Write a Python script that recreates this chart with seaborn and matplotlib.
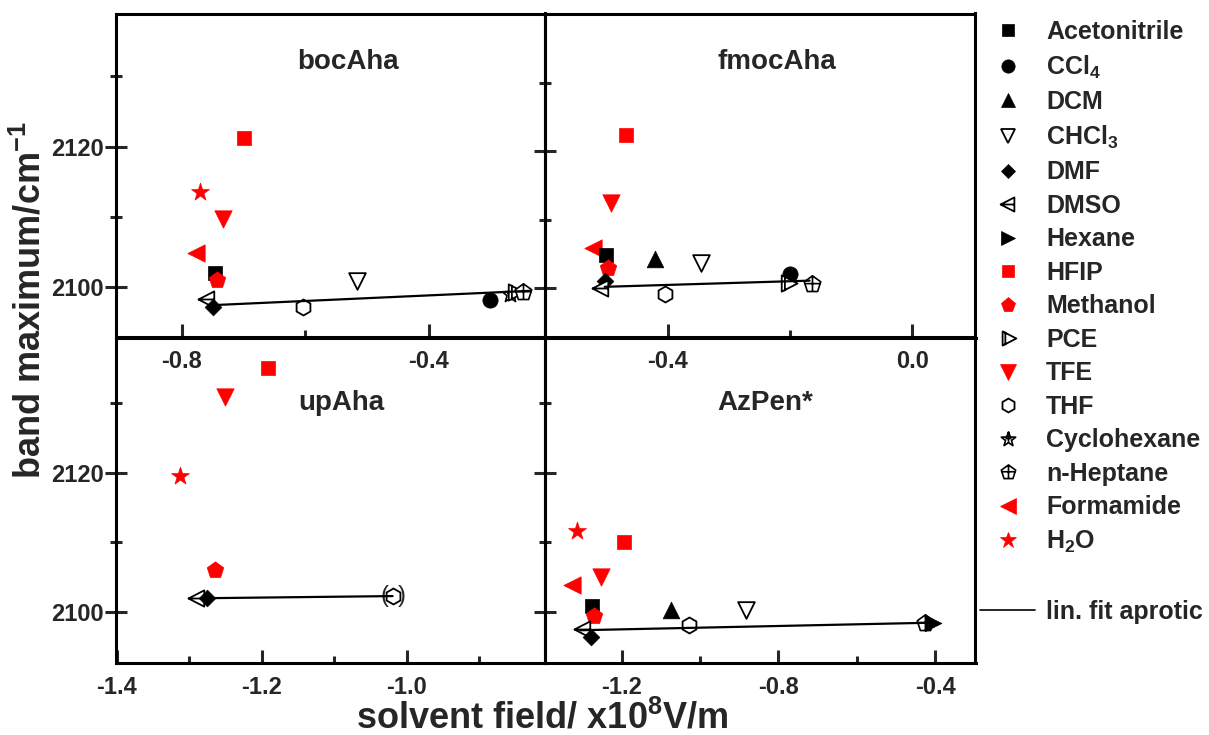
import numpy as np
import matplotlib
matplotlib.use("Agg")
import matplotlib.pyplot as plt
from matplotlib.path import Path
from matplotlib.lines import Line2D
from matplotlib.ticker import FixedLocator, MultipleLocator, FuncFormatter
import seaborn as sns

# ---------------------------------------------------------------- data
solvents = ["Acetonitrile", "CCl4", "DCM", "CHCl3", "DMF", "DMSO", "Hexane", "HFIP",
            "Methanol", "PCE", "TFE", "THF", "Cyclohexane", "n-Heptane", "Formamide", "H2O"]
solvent_labels = ["Acetonitrile", "CCl$_4$", "DCM", "CHCl$_3$", "DMF", "DMSO", "Hexane", "HFIP",
                  "Methanol", "PCE", "TFE", "THF", "Cyclohexane", "n-Heptane", "Formamide", "H$_2$O"]

# bocAha
boc_solvents = ["HFIP", "H2O", "TFE", "Formamide", "Acetonitrile", "Methanol", "DMSO", "DMF",
                "THF", "CHCl3", "CCl4", "Cyclohexane", "PCE", "n-Heptane"]
boc_field = [-0.699, -0.771, -0.734, -0.777, -0.747, -0.743, -0.759, -0.749,
             -0.6035, -0.516, -0.301, -0.269, -0.261, -0.247]
boc_band = [2121.3, 2113.6, 2109.7, 2104.9, 2102.1, 2101.1, 2098.3, 2097.2,
            2097.2, 2100.9, 2098.2, 2099.1, 2099.3, 2099.4]
boc_fit_field = [-0.741, -0.236]
boc_fit_band = [2097.5, 2099.5]

# fmocAha
fmoc_solvents = ["Formamide", "HFIP", "TFE", "Acetonitrile", "DCM", "CHCl3", "Methanol", "DMF",
                 "DMSO", "THF", "CCl4", "PCE", "n-Heptane"]
fmoc_field = [-0.523, -0.4687, -0.4932, -0.501, -0.4213, -0.3449, -0.498, -0.503,
              -0.5096, -0.4038, -0.1994, -0.2033, -0.164]
fmoc_band = [2105.9, 2122.3, 2112.5, 2104.9, 2104.2, 2103.7, 2103.0, 2101.1,
             2100.0, 2099.1, 2102.0, 2100.7, 2100.6]
fmoc_fit_field = [-0.503, -0.168]
fmoc_fit_band = [2100.2, 2101.1]

# upAha
up_solvents = ["HFIP", "TFE", "H2O", "Methanol", "DMSO", "DMF", "THF"]
up_field = [-1.1909, -1.2506, -1.3126, -1.2643, -1.2899, -1.2761, -1.0197]
up_band = [2135.0, 2130.9, 2119.5, 2106.0, 2102.0, 2102.0, 2102.3]
up_fit_field = [-1.2749, -1.0197]
up_fit_band = [2102.0, 2102.3]

# AzPen*
az_solvents = ["H2O", "HFIP", "TFE", "Formamide", "Acetonitrile", "Methanol", "DCM", "CHCl3",
               "THF", "DMSO", "DMF", "n-Heptane", "Hexane"]
az_field = [-1.3149, -1.1941, -1.2536, -1.3276, -1.275, -1.27, -1.0741, -0.8825,
            -1.0282, -1.298, -1.2791, -0.4255, -0.4043]
az_band = [2111.7, 2110.1, 2105.1, 2103.9, 2100.9, 2099.5, 2100.3, 2100.3,
           2098.1, 2097.6, 2096.5, 2098.4, 2098.4]
az_fit_field = [-1.3059, -0.3941]
az_fit_band = [2097.4, 2098.5]

panel_titles = ["bocAha", "fmocAha", "upAha", "AzPen*"]

# ---------------------------------------------------------------- marker shapes
def line_art(parts):
    verts, codes = [], []
    for pts, closed in parts:
        verts.extend(pts)
        codes.extend([Path.MOVETO] + [Path.LINETO] * (len(pts) - 1))
        if closed:
            verts.append(pts[0])
            codes.append(Path.CLOSEPOLY)
    return Path(verts, codes)


arrow_left = line_art([([(-1.0, 0.0), (0.75, 0.9), (0.75, -0.9)], True),
                       ([(-1.0, 0.0), (0.75, 0.0)], False)])
barred_right = line_art([([(-0.75, 0.9), (1.0, 0.0), (-0.75, -0.9)], True),
                         ([(-0.4, 0.85), (-0.4, -0.85)], False)])
ang = np.deg2rad(90 + 36 * np.arange(10))
rad = np.where(np.arange(10) % 2 == 0, 1.0, 0.42)
star_pts = list(zip(rad * np.cos(ang), rad * np.sin(ang)))
crossed_star = line_art([(star_pts, True), ([(0.0, 1.0), (0.0, -0.42)], False),
                         ([(-0.4, 0.13), (0.4, 0.13)], False)])
pang = np.deg2rad(90 + 72 * np.arange(5))
pent_pts = list(zip(np.cos(pang), np.sin(pang)))
crossed_pent = line_art([(pent_pts, True), ([(0.0, 1.0), (0.0, -0.809)], False),
                         ([(-0.883, 0.1), (0.883, 0.1)], False)])

RED, BLK, WHT = "#ff0000", "#000000", "#ffffff"
styles = {
    "Acetonitrile": dict(marker="s", face=BLK, edge=BLK, ms=10.5, lw=0.5),
    "CCl4": dict(marker="o", face=BLK, edge=BLK, ms=11, lw=0.5),
    "DCM": dict(marker="^", face=BLK, edge=BLK, ms=12, lw=0.5),
    "CHCl3": dict(marker="v", face=WHT, edge=BLK, ms=12, lw=1.3),
    "DMF": dict(marker="D", face=BLK, edge=BLK, ms=8.5, lw=0.5),
    "DMSO": dict(marker=arrow_left, face=WHT, edge=BLK, ms=13, lw=1.3),
    "Hexane": dict(marker=">", face=BLK, edge=BLK, ms=12, lw=0.5),
    "HFIP": dict(marker="s", face=RED, edge=RED, ms=10.5, lw=0.5),
    "Methanol": dict(marker="p", face=RED, edge=RED, ms=12.5, lw=0.5),
    "PCE": dict(marker=barred_right, face=WHT, edge=BLK, ms=13, lw=1.3),
    "TFE": dict(marker="v", face=RED, edge=RED, ms=12.5, lw=0.5),
    "THF": dict(marker="h", face=WHT, edge=BLK, ms=11.5, lw=1.3),
    "Cyclohexane": dict(marker=crossed_star, face=WHT, edge=BLK, ms=12.5, lw=1.2),
    "n-Heptane": dict(marker=crossed_pent, face=WHT, edge=BLK, ms=12.5, lw=1.2),
    "Formamide": dict(marker="<", face=RED, edge=RED, ms=12.5, lw=0.5),
    "H2O": dict(marker="*", face=RED, edge=RED, ms=13.5, lw=0.5),
}

# ---------------------------------------------------------------- style
sns.set_style("ticks")
plt.rcParams["font.family"] = ["Liberation Sans", "DejaVu Sans"]
plt.rcParams["font.weight"] = "bold"
plt.rcParams["mathtext.default"] = "regular"
plt.rcParams["axes.unicode_minus"] = False

W, H = 1209, 735
fig = plt.figure(figsize=(W / 100, H / 100), dpi=100)

x_left, x_mid, x_right = 116.5, 545.0, 975.5
y_top, y_mid, y_bot = 13.5, 337.5, 663.0


def frame(x0, x1, y0, y1):
    return fig.add_axes([x0 / W, 1 - y1 / H, (x1 - x0) / W, (y1 - y0) / H])


ax_boc = frame(x_left, x_mid, y_top, y_mid)
ax_fmoc = frame(x_mid, x_right, y_top, y_mid)
ax_up = frame(x_left, x_mid, y_mid, y_bot)
ax_az = frame(x_mid, x_right, y_mid, y_bot)

panels = [
    (ax_boc, boc_solvents, boc_field, boc_band, boc_fit_field, boc_fit_band),
    (ax_fmoc, fmoc_solvents, fmoc_field, fmoc_band, fmoc_fit_field, fmoc_fit_band),
    (ax_up, up_solvents, up_field, up_band, up_fit_field, up_fit_band),
    (ax_az, az_solvents, az_field, az_band, az_fit_field, az_fit_band),
]

for ax, names, xs, ys, fx, fy in panels:
    for name, xv, yv in zip(names, xs, ys):
        st = styles[name]
        sns.scatterplot(x=[xv], y=[yv], marker=st["marker"], s=st["ms"] ** 2,
                        color=st["face"], edgecolor=st["edge"], linewidth=st["lw"],
                        ax=ax, zorder=3, legend=False)
    sns.lineplot(x=fx, y=fy, color="black", linewidth=1.6, ax=ax, zorder=4,
                 legend=False, estimator=None)

# THF point in upAha marked as uncertain
thf_i = up_solvents.index("THF")
for ch, dx in (("(", -6.0), (")", 6.6)):
    ax_up.annotate(ch, xy=(up_field[thf_i], up_band[thf_i]), xytext=(dx, 0),
                   textcoords="offset points", ha="center", va="center",
                   fontsize=17, fontweight="normal")

# ---------------------------------------------------------------- axes
limits = {
    ax_boc: ((-0.906, -0.2121), (2092.86, 2138.95)),
    ax_fmoc: ((-0.6007, 0.1034), (2092.8, 2140.1)),
    ax_up: ((-1.4005, -0.8095), (2092.7, 2139.4)),
    ax_az: ((-1.3958, -0.2966), (2092.7, 2139.4)),
}
x_steps = {ax_boc: (0.4, 0.2), ax_fmoc: (0.4, 0.2), ax_up: (0.2, 0.1), ax_az: (0.4, 0.2)}

fmt = FuncFormatter(lambda v, pos: f"{round(v, 1) + 0.0:.1f}")
for ax in (ax_boc, ax_fmoc, ax_up, ax_az):
    (xl, yl) = limits[ax]
    ax.set_xlim(*xl)
    ax.set_ylim(*yl)
    major, minor = x_steps[ax]
    ax.xaxis.set_major_locator(MultipleLocator(major))
    ax.xaxis.set_minor_locator(MultipleLocator(minor))
    ax.xaxis.set_major_formatter(fmt)
    ax.yaxis.set_major_locator(FixedLocator([2100, 2120]))
    ax.yaxis.set_minor_locator(FixedLocator([2110, 2130]))
    ax.tick_params(axis="y", which="major", direction="inout", length=16, width=2.2,
                   left=True, right=False, pad=1, labelsize=17)
    ax.tick_params(axis="y", which="minor", direction="inout", length=9, width=2.2,
                   left=True, right=False)
    ax.tick_params(axis="x", which="major", direction="in", length=9.5, width=2.2,
                   bottom=True, top=False, pad=9, labelsize=17)
    ax.tick_params(axis="x", which="minor", direction="in", length=5, width=2.2,
                   bottom=True, top=False)
    for lab in ax.get_xticklabels() + ax.get_yticklabels():
        lab.set_fontweight("bold")
    for sp in ax.spines.values():
        sp.set_visible(True)
        sp.set_linewidth(2.2)
        sp.set_color("black")
    ax.set_xlabel("")
    ax.set_ylabel("")
    ax.patch.set_alpha(0)

for ax in (ax_fmoc, ax_az):
    ax.tick_params(axis="y", labelleft=False)

# panel names
title_pos = {ax_boc: (0.540, 0.828), ax_fmoc: (0.5376, 0.828),
             ax_up: (0.5235, 0.778), ax_az: (0.5115, 0.778)}
for ax, title in zip((ax_boc, ax_fmoc, ax_up, ax_az), panel_titles):
    tx, ty = title_pos[ax]
    ax.text(tx, ty, title, transform=ax.transAxes, ha="center", va="baseline",
            fontsize=20, fontweight="bold", zorder=5)

# shared axis labels
fig.text(30 / W, 1 - 300 / H, "band maximum/cm$^{-1}$", rotation=90,
         ha="center", va="center", fontsize=26, fontweight="bold")
fig.text(542 / W, 1 - 700 / H, "solvent field/ x10$^8$V/m",
         ha="center", va="top", fontsize=26, fontweight="bold")

# ---------------------------------------------------------------- legend
handles = []
for name in solvents:
    st = styles[name]
    handles.append(Line2D([], [], linestyle="none", marker=st["marker"],
                          markersize=st["ms"] * 0.87, markerfacecolor=st["face"],
                          markeredgecolor=st["edge"], markeredgewidth=st["lw"]))
fig.legend(handles, solvent_labels, loc="upper left",
           bbox_to_anchor=(980 / W, 1 - 20 / H), frameon=False, borderpad=0,
           borderaxespad=0, handlelength=2.2, handletextpad=0.45, labelspacing=0.38,
           prop={"size": 18, "weight": "bold"})
fig.legend([Line2D([], [], color="black", linewidth=1.2)], ["lin. fit aprotic"],
           loc="upper left", bbox_to_anchor=(980 / W, 1 - 600 / H), frameon=False,
           borderpad=0, borderaxespad=0, handlelength=2.2, handletextpad=0.45,
           prop={"size": 18, "weight": "bold"})

fig.savefig("out.png", dpi=100)
